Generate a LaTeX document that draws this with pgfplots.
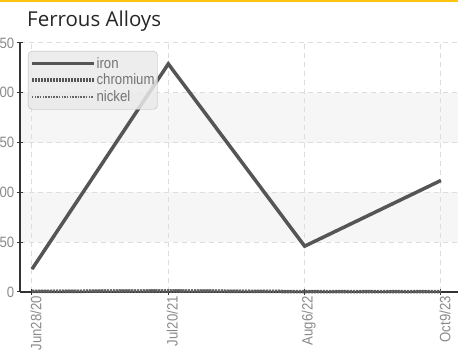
\documentclass[border=0pt]{standalone}
\usepackage{fontspec}
\usepackage{pgfplots}
\pgfplotsset{compat=1.18}
\setmainfont{Liberation Sans}
\newfontfamily\titlefont{Open Sans}
\newfontfamily\narrow[FakeStretch=0.88]{Liberation Sans}
\definecolor{topbar}{HTML}{FFC20E}
\definecolor{linegray}{HTML}{555555}
\definecolor{gridgray}{HTML}{DDDDDD}
\definecolor{bandgray}{HTML}{F6F6F6}
\definecolor{labgray}{HTML}{8A8A8A}
\definecolor{axisdark}{HTML}{333333}
\definecolor{leggray}{HTML}{EAEAEA}
\begin{document}
\begin{tikzpicture}
\fill[topbar] (0bp,351.5bp) rectangle (458bp,354bp);
\node[anchor=base west, inner sep=0pt, text=black!85, font=\titlefont\fontsize{20.5bp}{24bp}\selectfont] at (27bp,327.3bp) {Ferrous Alloys};
\begin{axis}[
  at={(20bp,62bp)}, anchor=south west,
  scale only axis, width=438bp, height=249bp,
  set layers=standard,
  xmin=-0.088, xmax=3.125, ymin=0, ymax=250,
  axis x line=bottom, axis y line=left,
  axis line style={-, axisdark, line width=1.3bp},
  xtick={0,1,2,3},
  xticklabels={Jun28/20,Jul20/21,Aug6/22,Oct9/23},
  ytick={0,50,100,150,200,250},
  tick align=center, major tick length=6bp,
  tick style={axisdark, line width=1bp},
  /pgf/number format/assume math mode=true,
  ticklabel style={font=\narrow\fontsize{15bp}{17bp}\selectfont, text=labgray},
  xticklabel style={rotate=90, anchor=east, inner sep=0pt, yshift=-4bp, xshift=-1bp},
  yticklabel style={anchor=east, inner sep=0pt, xshift=-2.5bp},
  grid=major,
  major grid style={gridgray, line width=1bp, dash pattern=on 5bp off 4bp},
  clip=false,
  legend cell align=left,
  legend style={at={(0.018,0.968)}, anchor=north west,
    draw=gray!55, fill=leggray, fill opacity=0.85, text opacity=1, draw opacity=1,
    rounded corners=4bp, font=\narrow\fontsize{15bp}{17bp}\selectfont, text=gray!90!black,
    inner xsep=2bp, inner ysep=5bp, row sep=2.5bp,
    nodes={inner sep=1bp},
    /tikz/every even column/.append style={column sep=2bp}},
  legend image code/.code={\draw[#1, opacity=1] (0bp,0bp) -- (62bp,0bp);},
]
\begin{pgfonlayer}{axis background}
\fill[bandgray] (axis cs:-0.088,150) rectangle (axis cs:3.125,200);
\fill[bandgray] (axis cs:-0.088,50) rectangle (axis cs:3.125,100);
\end{pgfonlayer}
\addplot[linegray, line width=3.5bp] coordinates {(0,23) (1,229) (2,46) (3,112)};
\addlegendentry{iron}
\addplot[linegray, line width=3.5bp, dash pattern=on 2bp off 1bp] coordinates {(0,0.6) (1,1.0) (2,0.4) (3,0.5)};
\addlegendentry{chromium}
\addplot[linegray!90, line width=2.5bp, dash pattern=on 1.5bp off 1.2bp] coordinates {(0,0.9) (1,1.6) (2,0.6) (3,0.6)};
\addlegendentry{nickel}
\end{axis}
\pgfresetboundingbox
\path[use as bounding box] (0bp,0bp) rectangle (458bp,354bp);
\end{tikzpicture}
\end{document}
